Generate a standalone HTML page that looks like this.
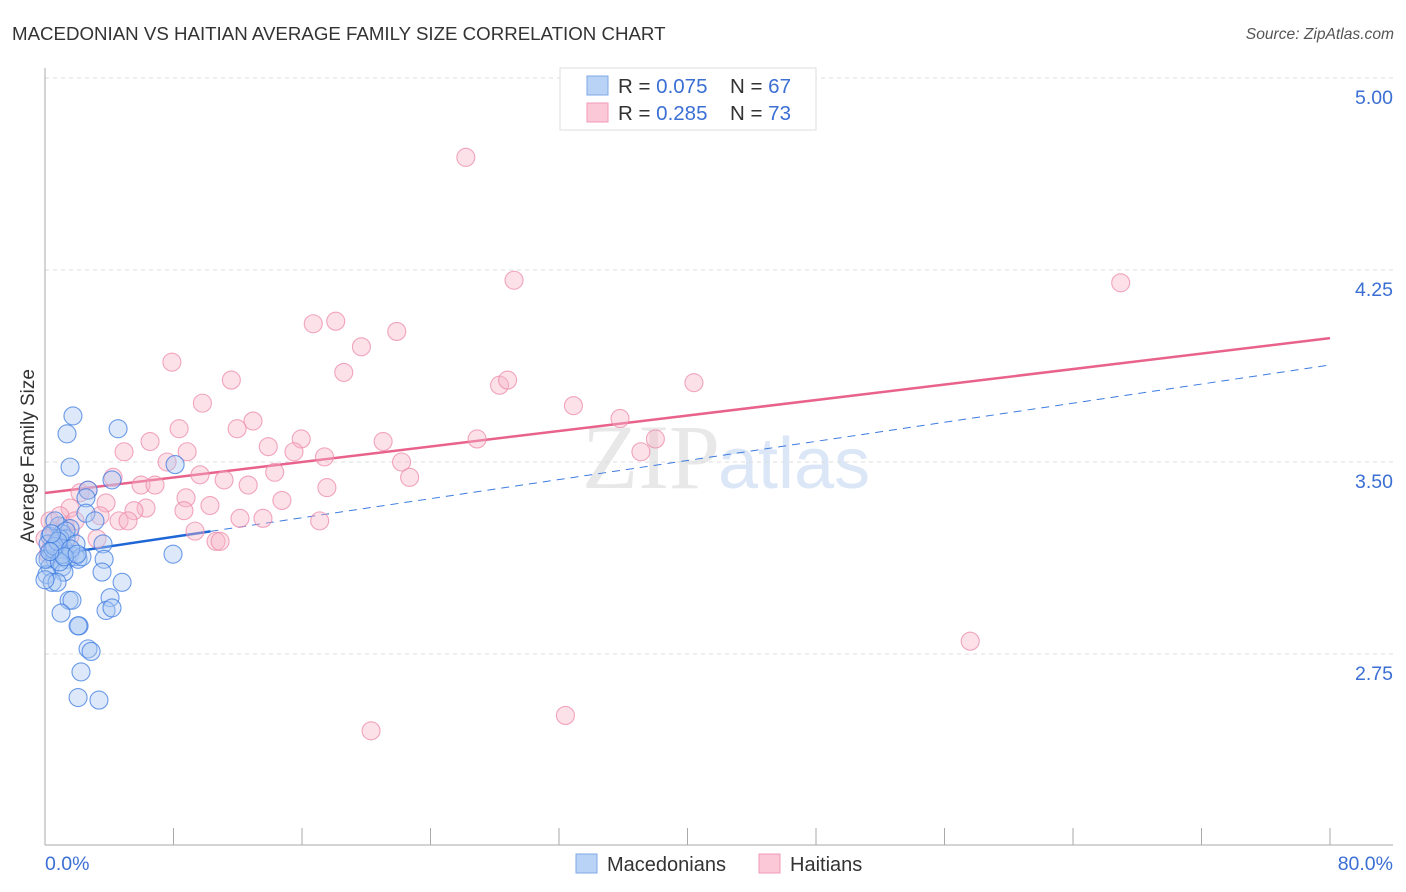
<!DOCTYPE html>
<html><head><meta charset="utf-8"><style>
body{margin:0;background:#fff;font-family:"Liberation Sans",sans-serif;}
svg{display:block}
</style></head><body>
<svg id="chart" width="1406" height="892">
<text x="12" y="40" font-size="18.7" fill="#333">MACEDONIAN VS HAITIAN AVERAGE FAMILY SIZE CORRELATION CHART</text>
<text x="1394" y="39" font-size="15.6" fill="#555" font-style="italic" text-anchor="end">Source: ZipAtlas.com</text>
<text x="720" y="488" font-size="92" fill="#e8e8e8" font-family="Liberation Serif,serif" text-anchor="end">ZIP</text>
<text x="718" y="488" font-size="72" fill="#dbe6f6">atlas</text>
<g id="grid"></g>
<g id="axes"></g>
<g id="lines"></g>
<g id="points"></g>
<text x="34" y="456" font-size="19" fill="#333" text-anchor="middle" transform="rotate(-90 34 456)">Average Family Size</text>
<text x="45" y="870" font-size="19.5" fill="#3b6fd4">0.0%</text>
<text x="1393" y="870" font-size="19.5" fill="#3b6fd4" text-anchor="end">80.0%</text>
<g>
<rect x="560" y="68" width="256" height="62" fill="#fff" stroke="#ddd"/>
<rect x="587" y="76" width="21" height="19" fill="#b9d3f7" stroke="#7fa8e6"/>
<rect x="587" y="103" width="21" height="19" fill="#fbc8d8" stroke="#f09ab6"/>
<text x="618" y="93" font-size="20.5" fill="#333">R = <tspan fill="#3b6fd4">0.075</tspan><tspan x="730">N = </tspan><tspan fill="#3b6fd4">67</tspan></text>
<text x="618" y="120" font-size="20.5" fill="#333">R = <tspan fill="#3b6fd4"> 0.285</tspan><tspan x="730">N = </tspan><tspan fill="#3b6fd4">73</tspan></text>
</g>
<g>
<rect x="576" y="854" width="21" height="19" fill="#b9d3f7" stroke="#7fa8e6"/>
<text x="607" y="871" font-size="20" fill="#333">Macedonians</text>
<rect x="759" y="854" width="21" height="19" fill="#fbc8d8" stroke="#f09ab6"/>
<text x="790" y="871" font-size="20" fill="#333">Haitians</text>
</g>
</svg>
<script>
const yTicks=[5.00,4.25,3.50,2.75];
const yTickLabels=["5.00","4.25","3.50","2.75"];
const xTicks=[0,8,16,24,32,40,48,56,64,72,80];
const blueX=[1.74,1.37,4.55,1.56,8.1,4.17,2.68,2.55,2.55,3.11,0.87,1.56,1.06,0.31,1.31,0.75,1.18,0.44,0.93,1.56,1.87,0.19,0.62,1.37,2.06,0.31,1.06,3.61,7.97,3.68,3.55,1.18,0.12,0.44,0.75,4.8,1.5,1.68,4.05,1.0,3.8,4.17,2.12,2.06,2.68,2.87,2.24,2.06,3.36,0.19,0.62,0,0.93,1.31,1.93,0.5,0,1.1,0.6,2.3,0.8,1.6,0.4,0.9,1.2,0.3,2.0];
const blueY=[3.68,3.61,3.63,3.48,3.49,3.43,3.39,3.36,3.30,3.27,3.25,3.24,3.22,3.21,3.20,3.18,3.16,3.15,3.15,3.14,3.13,3.12,3.12,3.12,3.12,3.09,3.09,3.18,3.14,3.12,3.07,3.07,3.06,3.03,3.03,3.03,2.96,2.96,2.97,2.91,2.92,2.93,2.86,2.86,2.77,2.76,2.68,2.58,2.57,3.18,3.27,3.12,3.20,3.23,3.18,3.16,3.04,3.14,3.17,3.13,3.19,3.16,3.22,3.11,3.13,3.15,3.14];
const pinkX=[26.2,29.2,66.97,16.7,18.1,21.9,19.7,7.9,18.6,11.6,40.4,28.3,28.8,9.8,32.9,12.95,35.8,11.96,8.35,6.54,4.92,13.9,21.05,26.9,38.0,8.85,15.95,15.5,17.4,37.1,22.2,7.6,9.65,14.3,22.7,11.15,4.24,12.65,17.55,5.98,2.18,6.85,8.78,2.68,3.8,6.29,1.56,14.75,10.27,5.54,8.65,3.43,4.61,5.17,12.14,13.57,17.1,9.34,3.24,10.65,10.9,57.6,32.4,20.3,0.31,0.62,0.93,0,0.44,1.25,1.56,1.87,0.19];
const pinkY=[4.69,4.21,4.20,4.04,4.05,4.01,3.95,3.89,3.85,3.82,3.81,3.80,3.82,3.73,3.72,3.66,3.67,3.63,3.63,3.58,3.54,3.56,3.58,3.59,3.59,3.54,3.59,3.54,3.52,3.54,3.50,3.50,3.45,3.46,3.44,3.43,3.44,3.41,3.40,3.41,3.38,3.41,3.36,3.39,3.34,3.32,3.32,3.35,3.33,3.31,3.31,3.29,3.27,3.27,3.28,3.28,3.27,3.23,3.20,3.19,3.19,2.80,2.51,2.45,3.27,3.23,3.29,3.20,3.18,3.25,3.21,3.27,3.14];
const pinkTrend=[3.379,3.984];
const blueTrend=[3.133,3.879];
const blueSolidEnd=10.3;

const NS="http://www.w3.org/2000/svg";
const L=45,R=1330,YT=78,PX=256;
const sx=v=>L+(v/80)*(R-L);
const sy=v=>YT+(5-v)*PX;
function mk(tag,attrs,parent){const e=document.createElementNS(NS,tag);for(const k in attrs)e.setAttribute(k,attrs[k]);parent.appendChild(e);return e;}
const grid=document.getElementById('grid'),axes=document.getElementById('axes'),lines=document.getElementById('lines'),pts=document.getElementById('points');
yTicks.forEach((t,i)=>{
  const g=mk('line',{x1:L,x2:1393,y1:sy(t),y2:sy(t),stroke:'#ddd','stroke-dasharray':'4,4'},grid);
  
  
  const tx=mk('text',{x:1393,y:sy(t)+26,'font-size':19.5,fill:'#3b6fd4','text-anchor':'end'},axes);
  tx.textContent=yTickLabels[i];
  
  
});
const ya=mk('line',{x1:L,x2:L,y1:68,y2:845,stroke:'#aaa'},axes);


const xa=mk('line',{x1:L,x2:1393,y1:845,y2:845,stroke:'#aaa'},axes);


xTicks.forEach(t=>{
  const k=mk('line',{x1:sx(t),x2:sx(t),y1:828,y2:845,stroke:'#aaa'},axes);
  
  
});
function drawPts(X,Y,fill,stroke,name){
  X.forEach((x,i)=>{
    const c=mk('circle',{cx:sx(x),cy:sy(Y[i]),r:9,fill:fill,'fill-opacity':0.4,stroke:stroke,'stroke-width':1.1,'stroke-opacity':0.75},pts);
    
    
  });
}
drawPts(pinkX,pinkY,'#f7b5c8','#ec8aa9','haitian-point');
drawPts(blueX,blueY,'#a9c8f2','#3d7be0','macedonian-point');
const bAt=x=>blueTrend[0]+(blueTrend[1]-blueTrend[0])*x/80;
const bd=mk('line',{x1:sx(blueSolidEnd),y1:sy(bAt(blueSolidEnd)),x2:sx(80),y2:sy(blueTrend[1]),stroke:'#3d7be0','stroke-width':1,'stroke-dasharray':'8,6'},lines);


const bs=mk('line',{x1:sx(0),y1:sy(blueTrend[0]),x2:sx(blueSolidEnd),y2:sy(bAt(blueSolidEnd)),stroke:'#1f66d6','stroke-width':2.5},lines);


const pl=mk('line',{x1:sx(0),y1:sy(pinkTrend[0]),x2:sx(80),y2:sy(pinkTrend[1]),stroke:'#e8628c','stroke-width':2.5},lines);


</script>
</body></html>
